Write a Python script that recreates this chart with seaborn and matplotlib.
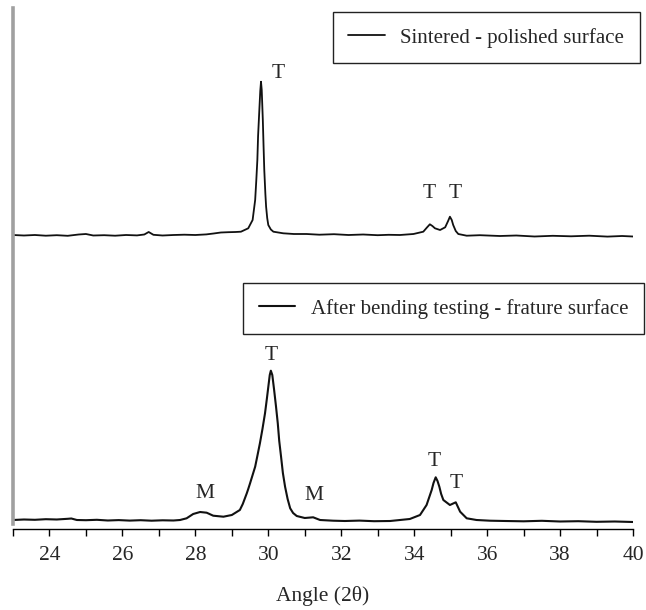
import pandas as pd
import matplotlib
matplotlib.use("Agg")
import matplotlib.pyplot as plt
import seaborn as sns

# XRD patterns (intensity in arbitrary units, baseline ~0)
angle_sintered = [23.0, 23.3, 23.6, 23.9, 24.2, 24.5, 24.8, 25.0, 25.2, 25.5,
                  25.8, 26.1, 26.4, 26.6, 26.72, 26.85, 27.1, 27.4, 27.7, 28.0,
                  28.3, 28.5, 28.7, 28.9, 29.1, 29.25, 29.45, 29.57, 29.64, 29.67,
                  29.70, 29.72, 29.75, 29.78, 29.80, 29.82, 29.85, 29.87, 29.89, 29.92,
                  29.94, 29.97, 30.0, 30.07, 30.14, 30.41, 30.7, 31.05,
                  31.4, 31.8, 32.2, 32.6, 33.0, 33.3, 33.61, 33.98, 34.25, 34.35,
                  34.43, 34.5, 34.57, 34.71, 34.85, 34.93, 34.98, 35.03, 35.07, 35.14,
                  35.21, 35.44, 35.8, 36.35, 36.8,
                  37.3, 37.8, 38.3, 38.8, 39.3, 39.7, 40.0]
int_sintered = [1.0, 0.5, 1.0, 0.3, 0.8, 0.2, 1.5, 2.0, 0.5, 0.8,
                0.3, 1.0, 0.6, 1.5, 4.0, 1.2, 0.5, 1.0, 1.3, 1.0,
                1.6, 2.5, 3.5, 3.8, 4.0, 4.3, 7.7, 16.0, 36.0, 55.0,
                76.0, 100.0, 122.7, 145.0, 154.3, 146.0, 116.0, 90.0, 66.0, 42.0,
                29.3, 18.0, 11.0, 6.5, 4.3, 2.7, 2.0, 2.0,
                1.3, 1.8, 1.0, 1.5, 0.8, 1.2, 1.0, 2.0, 4.3, 8.5,
                11.7, 10.0, 7.7, 6.0, 8.7, 15.0, 19.3, 16.0, 11.0, 5.0,
                2.0, 0.3, 0.8, 0.0, 0.5,
                -0.5, 0.2, -0.3, 0.3, -0.6, 0.0, -0.5]

angle_bent = [23.0, 23.3, 23.6, 23.9, 24.2, 24.5, 24.6, 24.75, 25.0, 25.3,
              25.6, 25.9, 26.2, 26.5, 26.8, 27.1, 27.4, 27.58, 27.76, 27.94,
              28.13, 28.31, 28.49, 28.77, 29.0, 29.22, 29.3, 29.41, 29.45, 29.5,
              29.57, 29.64, 29.7, 29.77, 29.84, 29.91, 29.96, 30.0, 30.04, 30.07,
              30.11, 30.16, 30.21, 30.26, 30.3, 30.35, 30.4, 30.46, 30.53, 30.6,
              30.68, 30.78, 31.0, 31.23, 31.42, 31.78, 32.1, 32.5, 32.9, 33.34,
              33.88, 34.16, 34.34, 34.48, 34.53, 34.59, 34.64, 34.69, 34.74, 34.8,
              34.98, 35.14, 35.26, 35.44, 35.71, 36.08,
              36.5, 37.0, 37.5, 38.0, 38.5, 39.0, 39.5, 40.0]
int_bent = [1.0, 1.5, 1.2, 1.8, 1.5, 2.2, 2.5, 1.0, 0.8, 1.2,
            0.5, 0.9, 0.4, 0.8, 0.3, 0.7, 0.5, 1.0, 2.7, 7.0,
            9.0, 8.3, 5.3, 4.3, 6.0, 11.0, 17.0, 27.7, 32.0, 37.7,
            46.0, 54.3, 65.0, 77.7, 92.0, 107.7, 122.0, 134.0, 146.0, 150.3,
            146.0, 131.0, 115.0, 97.7, 80.0, 64.3, 48.0, 34.3, 22.0, 12.7,
            8.0, 5.0, 3.0, 3.7, 1.0, 0.3, 0.0, 0.4, -0.2, 0.0,
            2.0, 6.0, 16.0, 31.0, 38.0, 43.7, 40.0, 34.3, 27.0, 21.0,
            16.0, 18.7, 9.3, 2.7, 1.0, 0.3,
            0.0, -0.3, 0.2, -0.5, -0.2, -0.8, -0.5, -1.0]

offset_sintered = 293
offset_bent = 8

label_sintered = "Sintered - polished surface"
label_bent = "After bending testing - frature surface"

# phase marks: (text, angle, height on the plot)
marks = [("T", 30.27, 455), ("T", 34.40, 336), ("T", 35.13, 335),
         ("M", 28.26, 36), ("T", 30.07, 173), ("M", 31.26, 34),
         ("T", 34.54, 67), ("T", 35.14, 46)]

sns.set_style("white")
plt.rcParams["font.family"] = ["Liberation Serif", "DejaVu Serif"]

df_s = pd.DataFrame({"angle": angle_sintered,
                     "intensity": [v + offset_sintered for v in int_sintered]})
df_b = pd.DataFrame({"angle": angle_bent,
                     "intensity": [v + offset_bent for v in int_bent]})

fig = plt.figure(figsize=(6.46, 6.10), dpi=100)
ax = fig.add_axes([13 / 646, 1 - 529 / 610, 620 / 646, 521 / 610])

sns.lineplot(data=df_s, x="angle", y="intensity", ax=ax, color="#111111",
             lw=1.3, label=label_sintered)
sns.lineplot(data=df_b, x="angle", y="intensity", ax=ax, color="#111111",
             lw=1.5, label=label_bent)

ax.set_xlim(23, 40)
ax.set_ylim(0, 521)
ax.set_xticks(range(24, 41, 2))
ax.set_xticks(range(23, 41), minor=True)
ax.set_yticks([])
ax.tick_params(axis="x", which="both", direction="out", length=5, width=1,
               color="black", labelsize=15.5, pad=7, bottom=True)
ax.set_xlabel("Angle (2θ)", fontsize=15.5, labelpad=15)
ax.set_ylabel("")

for side in ["top", "right"]:
    ax.spines[side].set_visible(False)
ax.spines["bottom"].set_color("black")
ax.spines["bottom"].set_linewidth(1.0)
ax.spines["left"].set_color("#a0a0a0")
ax.spines["left"].set_linewidth(2.6)
ax.spines["left"].set_bounds(5, 521)

for txt, x, y in marks:
    ax.text(x, y, txt, fontsize=15.5, ha="center", va="center")

handles, labels = ax.get_legend_handles_labels()
leg_kw = dict(loc="upper right", fontsize=15, frameon=True, fancybox=False,
              framealpha=1, edgecolor="#222222", borderpad=0.75,
              handlelength=1.75, handletextpad=0.75, borderaxespad=0)
leg1 = ax.legend([handles[0]], [labels[0]],
                 bbox_to_anchor=((640 - 13) / 620, (529 - 12) / 521), **leg_kw)
leg1.get_frame().set_linewidth(1.0)
ax.add_artist(leg1)
leg2 = ax.legend([handles[1]], [labels[1]],
                 bbox_to_anchor=((644 - 13) / 620, (529 - 283) / 521), **leg_kw)
leg2.get_frame().set_linewidth(1.0)

fig.savefig("out.png", dpi=100)
